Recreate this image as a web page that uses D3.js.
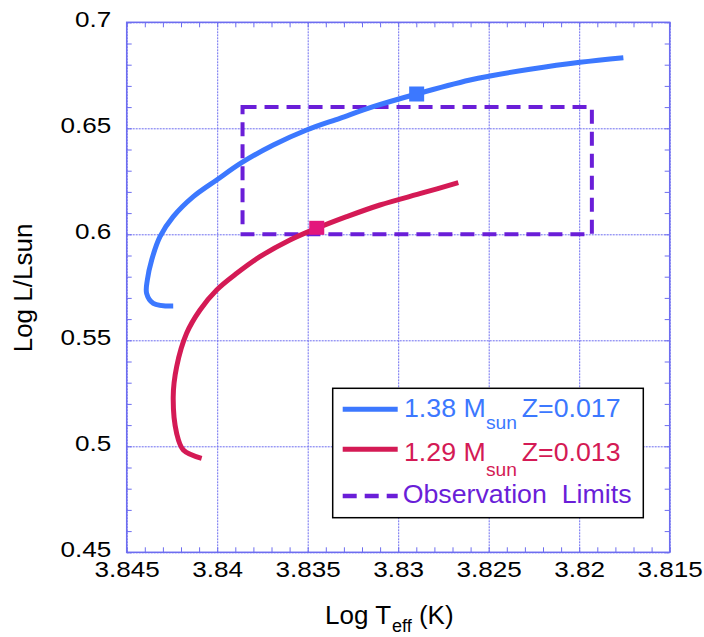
<!DOCTYPE html>
<html><head><meta charset="utf-8">
<script src="https://cdn.jsdelivr.net/npm/d3@7"></script>
<style>
html,body{margin:0;padding:0;background:#fff;}
svg{display:block;font-family:"Liberation Sans",Arial,Helvetica,sans-serif;}
</style></head>
<body>
<svg id="chart" width="704" height="637"></svg>
<script>
// ---- data ----
const xTicks = [3.845, 3.84, 3.835, 3.83, 3.825, 3.82, 3.815];
const xTickLabels = ["3.845", "3.84", "3.835", "3.83", "3.825", "3.82", "3.815"];
const yTicks = [0.45, 0.5, 0.55, 0.6, 0.65, 0.7];
const yTickLabels = ["0.45", "0.5", "0.55", "0.6", "0.65", "0.7"];

// 1.38 Msun, Z=0.017 track
const blueTeff = [3.84243, 3.84353, 3.84390, 3.84386, 3.84362, 3.84316, 3.84243, 3.84132, 3.84003, 3.83865, 3.83690, 3.83506, 3.83322, 3.83138, 3.82898, 3.82603, 3.82493, 3.82272, 3.81996, 3.81756];
const blueLogL = [0.56618, 0.56745, 0.57217, 0.57844, 0.58788, 0.59887, 0.60830, 0.61774, 0.62561, 0.63377, 0.64212, 0.64920, 0.65472, 0.66019, 0.66618, 0.67278, 0.67467, 0.67783, 0.68113, 0.68330];
// 1.29 Msun, Z=0.013 track
const redTeff = [3.84086, 3.84187, 3.84224, 3.84243, 3.84224, 3.84169, 3.84095, 3.84003, 3.83892, 3.83764, 3.83598, 3.83450, 3.83285, 3.83101, 3.82861, 3.82668];
const redLogL = [0.49434, 0.49825, 0.50613, 0.52340, 0.53755, 0.55330, 0.56429, 0.57373, 0.58160, 0.58943, 0.59731, 0.60283, 0.60830, 0.61382, 0.61962, 0.62434];
// current-position markers
const blueMarker = [3.82898, 0.66618];
const redMarker = [3.83450, 0.60283];
// observation limits box
const obsTeff = [3.8386, 3.8193];
const obsLogL = [0.600, 0.660];

const legendLabels = [
  {main: "1.38 M", sub: "sun", z: "Z=0.017"},
  {main: "1.29 M", sub: "sun", z: "Z=0.013"},
  {main: "Observation  Limits"}
];

// ---- styles ----
const BLUE = "#3c78ff", RED = "#d41a55", REDMK = "#e3167c", PURPLE = "#6a1ed8", GRID = "#6d6df0";
const FONT = "'Liberation Sans',Arial,Helvetica,sans-serif";

const svg = d3.select("#chart");
const L = 126.7, R = 669.7, T = 22.3, B = 552.3;
const x = d3.scaleLinear().domain([3.845, 3.815]).range([L, R]);
const y = d3.scaleLinear().domain([0.45, 0.7]).range([B, T]);

// grid
svg.append("g").attr("transform", `translate(0,${B})`)
  .call(d3.axisBottom(x).tickValues(xTicks).tickSize(-(B - T)).tickFormat(""))
  .call(g => g.select(".domain").remove())
  .selectAll("line").attr("stroke", GRID).attr("stroke-width", 1).attr("stroke-dasharray", "2,1");
svg.append("g").attr("transform", `translate(${L},0)`)
  .call(d3.axisLeft(y).tickValues(yTicks).tickSize(-(R - L)).tickFormat(""))
  .call(g => g.select(".domain").remove())
  .selectAll("line").attr("stroke", GRID).attr("stroke-width", 1).attr("stroke-dasharray", "2,1");

// minor ticks (inward on all sides)
const xMinor = d3.range(0, 31).map(i => 3.845 - i * 0.001);
const yMinor = d3.range(0, 26).map(i => 0.45 + i * 0.01);
function minor(g) { g.select(".domain").remove(); g.selectAll("line").attr("stroke", GRID).attr("stroke-width", 1); }
svg.append("g").attr("transform", `translate(0,${B})`).call(d3.axisBottom(x).tickValues(xMinor).tickSize(-5).tickFormat("")).call(minor);
svg.append("g").attr("transform", `translate(0,${T})`).call(d3.axisTop(x).tickValues(xMinor).tickSize(-5).tickFormat("")).call(minor);
svg.append("g").attr("transform", `translate(${L},0)`).call(d3.axisLeft(y).tickValues(yMinor).tickSize(-5).tickFormat("")).call(minor);
svg.append("g").attr("transform", `translate(${R},0)`).call(d3.axisRight(y).tickValues(yMinor).tickSize(-5).tickFormat("")).call(minor);

// frame
svg.append("rect").attr("x", L).attr("y", T).attr("width", R - L).attr("height", B - T)
  .attr("fill", "none").attr("stroke", GRID).attr("stroke-width", 1.5);

// tick labels
const SX = 1.16;
svg.append("g").attr("transform", `translate(0,${B})`)
  .call(d3.axisBottom(x).tickValues(xTicks).tickSize(0).tickFormat((d, i) => xTickLabels[i]))
  .call(g => g.select(".domain").remove())
  .selectAll("text").attr("y", 24.7).attr("dy", 0).attr("transform", `scale(${SX},1)`)
  .attr("font-size", 22.5).attr("font-family", FONT).attr("fill", "#000");
svg.append("g").attr("transform", `translate(${L},0)`)
  .call(d3.axisLeft(y).tickValues(yTicks).tickSize(0).tickFormat((d, i) => yTickLabels[i]))
  .call(g => g.select(".domain").remove())
  .selectAll("text").attr("x", -15.5 / SX).attr("dy", 4).attr("transform", `scale(${SX},1)`)
  .attr("font-size", 22.5).attr("font-family", FONT).attr("fill", "#000");

// axis titles
const xt = svg.append("text").attr("x", 325).attr("y", 624.3).attr("font-size", 26).attr("fill", "#000");
xt.append("tspan").text("Log T");
xt.append("tspan").attr("font-size", 18).attr("dy", 8).attr("dx", 1).text("eff");
xt.append("tspan").attr("dy", -8).attr("dx", 0).text(" (K)");
svg.append("text").attr("transform", "translate(31.7,288) rotate(-90)").attr("text-anchor", "middle")
  .attr("font-size", 26).attr("fill", "#000").text("Log L/Lsun");

const line = d3.line().x(d => x(d[0])).y(d => y(d[1])).curve(d3.curveCatmullRom.alpha(0.5));

// observation box
svg.append("rect")
  .attr("x", x(obsTeff[0])).attr("y", y(obsLogL[1]))
  .attr("width", x(obsTeff[1]) - x(obsTeff[0])).attr("height", y(obsLogL[0]) - y(obsLogL[1]))
  .attr("fill", "none").attr("stroke", PURPLE).attr("stroke-width", 4).attr("stroke-dasharray", "14,8");

svg.append("path").datum(d3.zip(blueTeff, blueLogL)).attr("d", line)
  .attr("fill", "none").attr("stroke", BLUE).attr("stroke-width", 5);
svg.append("path").datum(d3.zip(redTeff, redLogL)).attr("d", line)
  .attr("fill", "none").attr("stroke", RED).attr("stroke-width", 5);

// markers
const MS = 15;
svg.append("rect").attr("x", x(blueMarker[0]) - MS / 2).attr("y", y(blueMarker[1]) - MS / 2)
  .attr("width", MS).attr("height", MS).attr("fill", BLUE);
svg.append("rect").attr("x", x(redMarker[0]) - MS / 2).attr("y", y(redMarker[1]) - MS / 2)
  .attr("width", MS).attr("height", MS - 1).attr("fill", REDMK);

// legend
const lg = svg.append("g");
lg.append("rect").attr("x", 332.7).attr("y", 388.3).attr("width", 310.6).attr("height", 129.4)
  .attr("fill", "#fff").attr("stroke", "#000").attr("stroke-width", 1.5);
const rows = [
  {y: 409.3, base: 416.7, subBase: 429.3, color: BLUE, dash: null},
  {y: 449.3, base: 460.7, subBase: 476, color: RED, dash: null},
  {y: 496, base: 503.3, color: PURPLE, dash: "14,8"}
];
const LSX = 1.07;
rows.forEach((r, i) => {
  const ln = lg.append("line").attr("x1", 342.7).attr("x2", 397.7).attr("y1", r.y).attr("y2", r.y)
    .attr("stroke", r.color).attr("stroke-width", i === 2 ? 4.5 : 5);
  if (r.dash) ln.attr("stroke-dasharray", r.dash);
  const lab = legendLabels[i];
  lg.append("text").attr("transform", `translate(${i === 2 ? 402.7 : 404},${r.base}) scale(${LSX},1)`)
    .attr("font-size", 25).attr("fill", r.color).style("white-space", "pre").text(lab.main);
  if (lab.sub) {
    lg.append("text").attr("transform", `translate(486,${r.subBase}) scale(${LSX},1)`)
      .attr("font-size", 18).attr("fill", r.color).text(lab.sub);
    lg.append("text").attr("transform", `translate(521.7,${r.base}) scale(${LSX},1)`)
      .attr("font-size", 25).attr("fill", r.color).text(lab.z);
  }
});
</script>
</body></html>
